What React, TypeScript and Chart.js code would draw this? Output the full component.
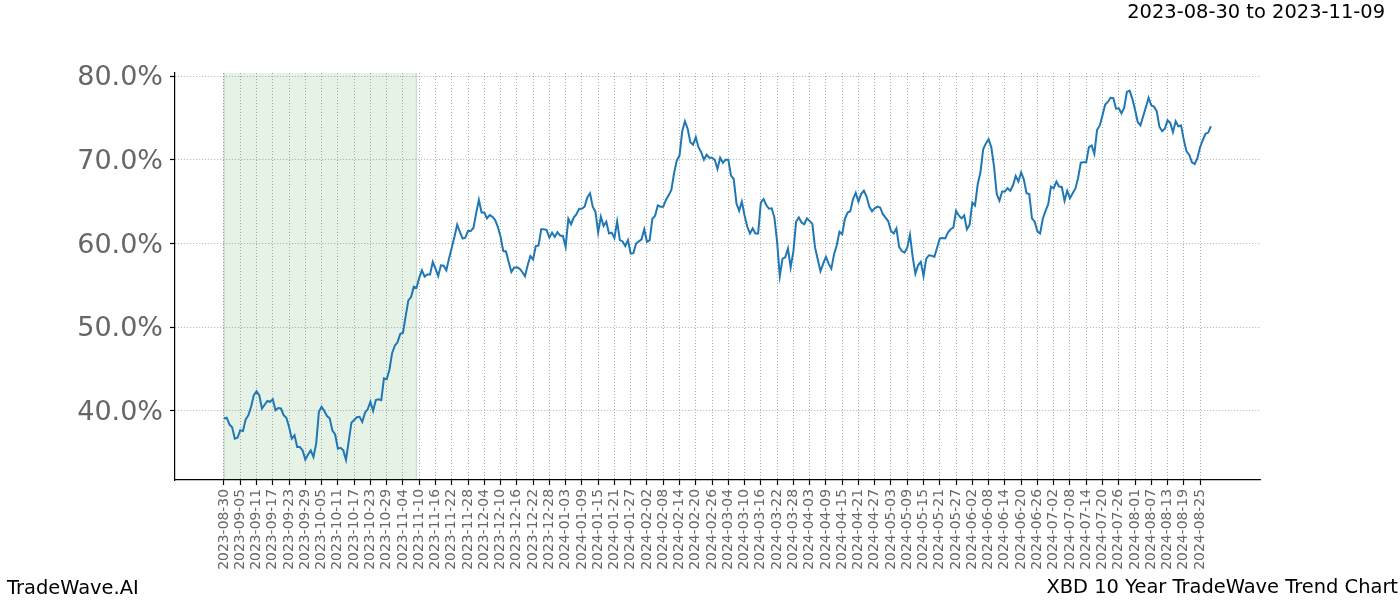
import React, { useEffect, useRef } from "react";
import { Chart, registerables } from "chart.js";

Chart.register(...registerables);

// Day offsets from 2023-08-30 (tick spacing: 6 days)
const dayOffsets = [
  0, 1, 2, 3, 4, 5, 6, 7, 8, 9,
  10, 11, 12, 13, 14, 15, 16, 17, 18, 19,
  20, 21, 22, 23, 24, 25, 26, 27, 28, 29,
  30, 31, 32, 33, 34, 35, 36, 37, 38, 39,
  40, 41, 42, 43, 44, 45, 47, 49, 50, 51,
  52, 53, 54, 55, 56, 57, 58, 59, 60, 61,
  62, 63, 64, 65, 66, 67, 68, 69, 70, 71,
  72, 73, 74, 75, 76, 77, 78, 79, 80, 81,
  82, 83, 84, 85, 86, 87, 88, 89, 90, 91,
  92, 93, 94, 95, 96, 97, 98, 99, 100, 101,
  102, 103, 104, 105, 106, 107, 108, 109, 110, 111,
  112, 113, 114, 115, 116, 117, 118, 119, 120, 121,
  122, 123, 124, 125, 126, 127, 128, 129, 130, 131,
  132, 133, 134, 135, 136, 137, 138, 139, 140, 141,
  142, 143, 144, 145, 146, 147, 148, 149, 150, 151,
  152, 154, 155, 156, 157, 158, 159, 160, 161, 162,
  163, 164, 165, 166, 167, 168, 169, 170, 171, 172,
  173, 174, 175, 176, 177, 178, 179, 180, 181, 182,
  183, 184, 185, 186, 187, 188, 189, 190, 191, 192,
  193, 194, 195, 196, 197, 198, 199, 200, 201, 202,
  203, 204, 205, 206, 207, 208, 209, 210, 211, 212,
  213, 214, 215, 216, 217, 218, 219, 220, 221, 222,
  223, 224, 225, 226, 227, 228, 229, 230, 231, 232,
  233, 234, 235, 236, 237, 238, 239, 240, 241, 242,
  243, 244, 245, 246, 247, 248, 249, 250, 251, 252,
  253, 254, 255, 256, 257, 258, 259, 260, 261, 262,
  263, 264, 265, 266, 267, 268, 269, 270, 271, 272,
  273, 274, 275, 276, 277, 278, 279, 280, 281, 282,
  283, 284, 285, 286, 287, 288, 289, 290, 291, 292,
  293, 294, 295, 296, 297, 298, 299, 300, 301, 302,
  303, 304, 305, 306, 307, 308, 309, 310, 311, 312,
  313, 314, 315, 316, 317, 318, 319, 320, 321, 322,
  323, 324, 325, 326, 327, 328, 329, 330, 331, 332,
  333, 334, 335, 336, 337, 338, 339, 340, 341, 342,
  343, 344, 345, 346, 347, 348, 349, 350, 351, 352,
  353, 354, 355, 356, 357, 358, 359, 360, 361, 362, 363, 364,
];

// Trend values (%)
const trendValues = [
  39.1, 39.2, 38.4, 38.05, 36.7, 36.8, 37.7, 37.6, 39.0, 39.5,
  40.5, 41.9, 42.35, 41.9, 40.3, 40.75, 41.2, 41.1, 41.4, 40.1,
  40.35, 40.3, 39.5, 39.2, 38.1, 36.7, 37.1, 35.7, 35.7, 35.3,
  34.2, 34.8, 35.3, 34.5, 36.1, 39.9, 40.5, 40.0, 39.4, 39.1,
  37.65, 37.2, 35.5, 35.6, 35.3, 34.15, 38.6, 39.25, 39.3, 38.7,
  39.8, 40.2, 41.1, 40.0, 41.3, 41.4, 41.3, 43.9, 43.8, 44.9,
  46.9, 47.8, 48.2, 49.2, 49.35, 51.3, 53.2, 53.6, 54.85, 54.7,
  55.9, 56.8, 56.05, 56.3, 56.3, 57.8, 57.0, 56.1, 57.4, 57.35,
  56.8, 58.2, 59.5, 60.8, 62.25, 61.4, 60.6, 60.7, 61.5, 61.5,
  61.85, 63.6, 65.2, 63.7, 63.7, 63.0, 63.4, 63.2, 62.8, 62.0,
  60.8, 59.1, 59.05, 57.8, 56.6, 57.1, 57.15, 57.0, 56.6, 56.1,
  57.4, 58.5, 58.1, 59.7, 59.75, 61.7, 61.7, 61.6, 60.7, 61.3,
  60.8, 61.35, 60.95, 60.9, 59.6, 62.95, 62.3, 63.1, 63.5, 64.15,
  64.15, 64.4, 65.5, 66.0, 64.4, 63.8, 61.3, 63.2, 62.1, 62.6,
  61.2, 61.3, 60.65, 62.65, 60.4, 60.25, 59.7, 60.4, 58.8, 58.85,
  60.0, 60.5, 61.7, 60.2, 60.4, 62.95, 63.3, 64.55, 64.4, 64.4,
  65.2, 65.75, 66.4, 68.4, 69.9, 70.5, 73.4, 74.6, 73.7, 72.1,
  71.8, 72.7, 71.5, 70.9, 70.0, 70.6, 70.25, 70.25, 70.0, 68.9,
  70.25, 69.65, 70.0, 70.0, 68.1, 67.7, 64.8, 63.9, 65.0, 63.35,
  62.0, 61.2, 61.8, 61.2, 61.2, 64.9, 65.3, 64.6, 64.15, 64.2,
  63.1, 60.2, 56.1, 58.2, 58.35, 59.4, 57.15, 59.05, 62.6, 63.1,
  62.5, 62.3, 63.0, 62.7, 62.35, 59.5, 58.1, 56.7, 57.6, 58.4,
  57.6, 57.0, 58.7, 59.8, 61.4, 61.1, 62.95, 63.7, 63.85, 65.3,
  66.05, 65.0, 65.9, 66.3, 65.6, 64.4, 63.85, 64.2, 64.4, 64.3,
  63.5, 63.1, 62.65, 61.5, 61.2, 61.8, 59.6, 59.1, 58.9, 59.5,
  61.05, 58.4, 56.4, 57.4, 57.8, 56.1, 58.2, 58.6, 58.55, 58.4,
  59.5, 60.6, 60.65, 60.6, 61.3, 61.7, 61.9, 63.9, 63.35, 63.0,
  63.35, 61.7, 62.25, 64.9, 64.55, 67.1, 68.5, 71.25, 71.95, 72.45,
  71.5, 69.2, 65.9, 65.1, 66.2, 66.2, 66.6, 66.3, 66.95, 68.05,
  67.4, 68.5, 67.65, 66.0, 65.9, 63.0, 62.6, 61.45, 61.2, 62.95,
  63.9, 64.7, 66.8, 66.6, 67.4, 66.8, 66.75, 65.1, 66.3, 65.4,
  66.0, 66.55, 67.8, 69.65, 69.7, 69.7, 71.5, 71.7, 70.7, 73.55,
  74.1, 75.3, 76.6, 76.9, 77.4, 77.35, 76.1, 76.15, 75.55, 76.2,
  78.1, 78.25, 77.3, 76.0, 74.5, 74.1, 75.2, 76.25, 77.4, 76.5,
  76.35, 75.8, 73.95, 73.4, 73.7, 74.7, 74.4, 73.3, 74.6, 74.0,
  74.1, 72.35, 71.0, 70.6, 69.7, 69.5, 70.2, 71.5, 72.35, 73.1, 73.25, 74.0,
];

// X tick labels, one every 6 days
const tickLabels = [
  "2023-08-30", "2023-09-05", "2023-09-11", "2023-09-17", "2023-09-23", "2023-09-29",
  "2023-10-05", "2023-10-11", "2023-10-17", "2023-10-23", "2023-10-29",
  "2023-11-04", "2023-11-10", "2023-11-16", "2023-11-22", "2023-11-28",
  "2023-12-04", "2023-12-10", "2023-12-16", "2023-12-22", "2023-12-28",
  "2024-01-03", "2024-01-09", "2024-01-15", "2024-01-21", "2024-01-27",
  "2024-02-02", "2024-02-08", "2024-02-14", "2024-02-20", "2024-02-26",
  "2024-03-04", "2024-03-10", "2024-03-16", "2024-03-22", "2024-03-28",
  "2024-04-03", "2024-04-09", "2024-04-15", "2024-04-21", "2024-04-27",
  "2024-05-03", "2024-05-09", "2024-05-15", "2024-05-21", "2024-05-27",
  "2024-06-02", "2024-06-08", "2024-06-14", "2024-06-20", "2024-06-26",
  "2024-07-02", "2024-07-08", "2024-07-14", "2024-07-20", "2024-07-26",
  "2024-08-01", "2024-08-07", "2024-08-13", "2024-08-19", "2024-08-25",
];
const tickStepDays = 6;

const yTickValues = [40, 50, 60, 70, 80];

// Highlighted window: 2023-08-30 .. 2023-11-09
const spanStartDay = 0;
const spanEndDay = 71;

const titleText = "2023-08-30 to 2023-11-09";
const footerLeft = "TradeWave.AI";
const footerRight = "XBD 10 Year TradeWave Trend Chart";

const FONT = "'DejaVu Sans', Verdana, sans-serif";

const spanPlugin = {
  id: "spanPlugin",
  beforeDatasetsDraw(chart: any) {
    const { ctx, chartArea, scales } = chart;
    const x0 = scales.x.getPixelForValue(spanStartDay);
    const x1 = scales.x.getPixelForValue(spanEndDay);
    ctx.save();
    ctx.fillStyle = "rgba(0,128,0,0.1)";
    ctx.fillRect(x0, chartArea.top, x1 - x0, chartArea.bottom - chartArea.top);
    ctx.strokeStyle = "rgba(0,90,0,0.16)";
    ctx.lineWidth = 1.5;
    ctx.beginPath();
    ctx.moveTo(x0, chartArea.top);
    ctx.lineTo(x0, chartArea.bottom);
    ctx.moveTo(x1, chartArea.top);
    ctx.lineTo(x1, chartArea.bottom);
    ctx.stroke();
    ctx.restore();
  },
};

const gridOpts: any = {
  display: true,
  drawOnChartArea: true,
  drawTicks: true,
  tickLength: 5,
  color: "rgba(130,130,130,0.8)",
  lineWidth: 0.8,
  tickColor: "#000000",
  tickWidth: 1.2,
  tickBorderDash: [],
};

const borderOpts: any = {
  display: true,
  color: "#000000",
  width: 1.2,
  dash: [1, 2],
};

export default function App() {
  const canvasRef = useRef<HTMLCanvasElement | null>(null);

  useEffect(() => {
    document.body.style.margin = "0";
    const canvas = canvasRef.current;
    if (!canvas) return;
    const points = dayOffsets.map((d, i) => ({ x: d, y: trendValues[i] }));
    const tickDays = tickLabels.map((_, i) => i * tickStepDays);

    const chart = new Chart(canvas, {
      type: "line",
      data: {
        datasets: [
          {
            data: points,
            borderColor: "#1f77b4",
            borderWidth: 2,
            pointRadius: 0,
            tension: 0,
            fill: false,
          },
        ],
      },
      options: {
        animation: false,
        responsive: false,
        devicePixelRatio: 1,
        layout: { padding: { top: 73, right: 140, left: 0, bottom: 0 } },
        plugins: {
          legend: { display: false },
          tooltip: { enabled: false },
          title: { display: false },
        },
        scales: {
          x: {
            type: "linear",
            min: -18.07,
            max: 382.1,
            afterBuildTicks: (scale: any) => {
              scale.ticks = tickDays.map((v) => ({ value: v }));
            },
            afterFit: (scale: any) => {
              scale.height = 120;
            },
            ticks: {
              autoSkip: false,
              maxRotation: 90,
              minRotation: 90,
              padding: 4,
              color: "#666666",
              font: { family: FONT, size: 13.9 },
              callback: (value: any) => {
                const idx = Math.round(Number(value) / tickStepDays);
                return tickLabels[idx] ?? "";
              },
            },
            grid: gridOpts,
            border: borderOpts,
          },
          y: {
            type: "linear",
            min: 31.76,
            max: 80.36,
            afterBuildTicks: (scale: any) => {
              scale.ticks = yTickValues.map((v) => ({ value: v }));
            },
            afterFit: (scale: any) => {
              scale.width = 175;
            },
            ticks: {
              padding: 7,
              labelOffset: 2,
              color: "#666666",
              font: { family: FONT, size: 27 },
              callback: (value: any) => Number(value).toFixed(1) + "%",
            },
            grid: gridOpts,
            border: borderOpts,
          },
        },
      },
      plugins: [spanPlugin],
    } as any);

    return () => {
      chart.destroy();
    };
  }, []);

  const textBase: React.CSSProperties = {
    position: "absolute",
    fontFamily: FONT,
    fontSize: "19.44px",
    lineHeight: 1,
    color: "#000000",
    whiteSpace: "nowrap",
  };

  return (
    <div
      style={{
        position: "fixed",
        left: 0,
        top: 0,
        width: 1400,
        height: 600,
        background: "#ffffff",
        overflow: "hidden",
      }}
    >
      <canvas
        ref={canvasRef}
        width={1400}
        height={600}
        style={{ position: "absolute", left: 0, top: 0, width: 1400, height: 600 }}
      />
      <div style={{ ...textBase, right: 15, top: 2 }}>{titleText}</div>
      <div style={{ ...textBase, left: 7, top: 577.5 }}>{footerLeft}</div>
      <div style={{ ...textBase, right: 2, top: 577 }}>{footerRight}</div>
    </div>
  );
}
